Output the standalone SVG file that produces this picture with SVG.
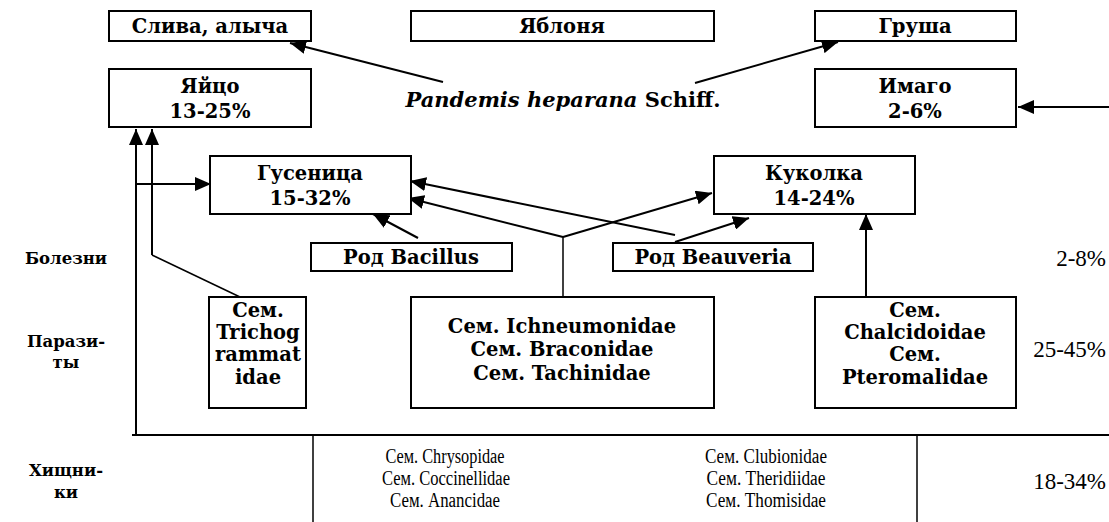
<svg xmlns="http://www.w3.org/2000/svg" width="1109" height="522" viewBox="0 0 1109 522">
<style>
.box{fill:#fff;stroke:#000;stroke-width:2}
.b{font-family:"DejaVu Serif","Liberation Serif",serif;font-weight:bold;font-size:19.5px;text-anchor:middle;fill:#000}
.lb{font-size:16.5px}
.pd{font-size:21px}
.n{font-family:"Liberation Serif","Times New Roman",serif;font-size:20px;text-anchor:middle;fill:#000}
.pc{font-size:23px;text-anchor:end}
.ln{stroke:#000;stroke-width:2;fill:none}
.thin{stroke:#000;stroke-width:1.5;fill:none}
</style>
<defs>
<marker id="ah" markerUnits="userSpaceOnUse" markerWidth="18" markerHeight="14" refX="16" refY="7" orient="auto">
<path d="M0,0 L16,7 L0,14 Z" fill="#000"/>
</marker>
</defs>
<g id="connectors">
<line class="ln" x1="443" y1="82" x2="290" y2="43" marker-end="url(#ah)"/>
<line class="ln" x1="695" y1="83" x2="838" y2="42" marker-end="url(#ah)"/>
<line class="ln" x1="1109" y1="107" x2="1018" y2="107" marker-end="url(#ah)"/>
<line class="ln" x1="136" y1="434" x2="136" y2="129" marker-end="url(#ah)"/>
<line class="ln" x1="152" y1="255" x2="152" y2="129" marker-end="url(#ah)"/>
<line class="thin" x1="152" y1="255" x2="240" y2="297"/>
<line class="ln" x1="136" y1="184" x2="211" y2="184" marker-end="url(#ah)"/>
<line class="ln" x1="418" y1="238" x2="373" y2="214" marker-end="url(#ah)"/>
<line class="thin" x1="563" y1="297" x2="563" y2="237"/>
<line class="ln" x1="563" y1="237" x2="408" y2="198" marker-end="url(#ah)"/>
<line class="ln" x1="563" y1="237" x2="712" y2="193" marker-end="url(#ah)"/>
<line class="ln" x1="675" y1="235" x2="410" y2="181" marker-end="url(#ah)"/>
<line class="ln" x1="675" y1="242" x2="749" y2="218" marker-end="url(#ah)"/>
<line class="ln" x1="866" y1="297" x2="866" y2="214" marker-end="url(#ah)"/>
<line class="ln" x1="132" y1="435" x2="1109" y2="435"/>
<line class="thin" x1="313" y1="435" x2="313" y2="522"/>
<line class="thin" x1="917" y1="435" x2="917" y2="522"/>
</g>
<g id="sliva"><rect class="box" x="109" y="11" width="202" height="30"/><text class="b" x="210" y="33">Слива, алыча</text></g>
<g id="yablonya"><rect class="box" x="411" y="11" width="303" height="30"/><text class="b" x="562" y="33">Яблоня</text></g>
<g id="grusha"><rect class="box" x="815" y="11" width="201" height="30"/><text class="b" x="915" y="33">Груша</text></g>
<g id="yaytso"><rect class="box" x="109" y="69" width="202" height="58"/><text class="b" x="210" y="93">Яйцо</text><text class="b" x="210" y="118">13-25%</text></g>
<g id="imago"><rect class="box" x="815" y="69" width="201" height="58"/><text class="b" x="915" y="93">Имаго</text><text class="b" x="915" y="118">2-6%</text></g>
<g id="pandemis"><text class="b pd" x="563" y="107"><tspan font-style="italic">Pandemis heparana</tspan> Schiff.</text></g>
<g id="gusenitsa"><rect class="box" x="210" y="156" width="201" height="58"/><text class="b" x="310" y="180">Гусеница</text><text class="b" x="310" y="205">15-32%</text></g>
<g id="kukolka"><rect class="box" x="714" y="156" width="201" height="58"/><text class="b" x="814" y="180">Куколка</text><text class="b" x="814" y="205">14-24%</text></g>
<g id="bacillus"><rect class="box" x="311" y="243" width="201" height="28"/><text class="b" x="411" y="264">Род Bacillus</text></g>
<g id="beauveria"><rect class="box" x="613" y="243" width="200" height="28"/><text class="b" x="713" y="264">Род Beauveria</text></g>
<g id="tricho"><rect class="box" x="209" y="297" width="97" height="111"/><text class="b" x="258" y="317">Сем.</text><text class="b" x="258" y="339">Trichog</text><text class="b" x="258" y="361">rammat</text><text class="b" x="258" y="384">idae</text></g>
<g id="ichneu"><rect class="box" x="411" y="297" width="303" height="111"/><text class="b" x="562" y="333">Сем. Ichneumonidae</text><text class="b" x="562" y="356">Сем. Braconidae</text><text class="b" x="562" y="380">Сем. Tachinidae</text></g>
<g id="chalcid"><rect class="box" x="815" y="297" width="201" height="111"/><text class="b" x="915" y="317">Сем.</text><text class="b" x="915" y="339">Chalcidoidae</text><text class="b" x="915" y="361">Сем.</text><text class="b" x="915" y="384">Pteromalidae</text></g>
<g id="labels">
<text class="b lb" x="66" y="264">Болезни</text>
<text class="b lb" x="66" y="347">Парази-</text>
<text class="b lb" x="66" y="368">ты</text>
<text class="b lb" x="66" y="476">Хищни-</text>
<text class="b lb" x="66" y="498">ки</text>
<text class="n pc" x="1106" y="266">2-8%</text>
<text class="n pc" x="1106" y="357">25-45%</text>
<text class="n pc" x="1106" y="489">18-34%</text>
</g>
<g id="predators">
<text class="n" x="445" y="463" textLength="119" lengthAdjust="spacingAndGlyphs">Сем. Chrysopidae</text>
<text class="n" x="446" y="485" textLength="128" lengthAdjust="spacingAndGlyphs">Сем. Coccinellidae</text>
<text class="n" x="445" y="507" textLength="110" lengthAdjust="spacingAndGlyphs">Сем. Anancidae</text>
<text class="n" x="766" y="463" textLength="122" lengthAdjust="spacingAndGlyphs">Сем. Clubionidae</text>
<text class="n" x="766" y="485" textLength="119" lengthAdjust="spacingAndGlyphs">Сем. Theridiidae</text>
<text class="n" x="766" y="507" textLength="120" lengthAdjust="spacingAndGlyphs">Сем. Thomisidae</text>
</g>
</svg>
